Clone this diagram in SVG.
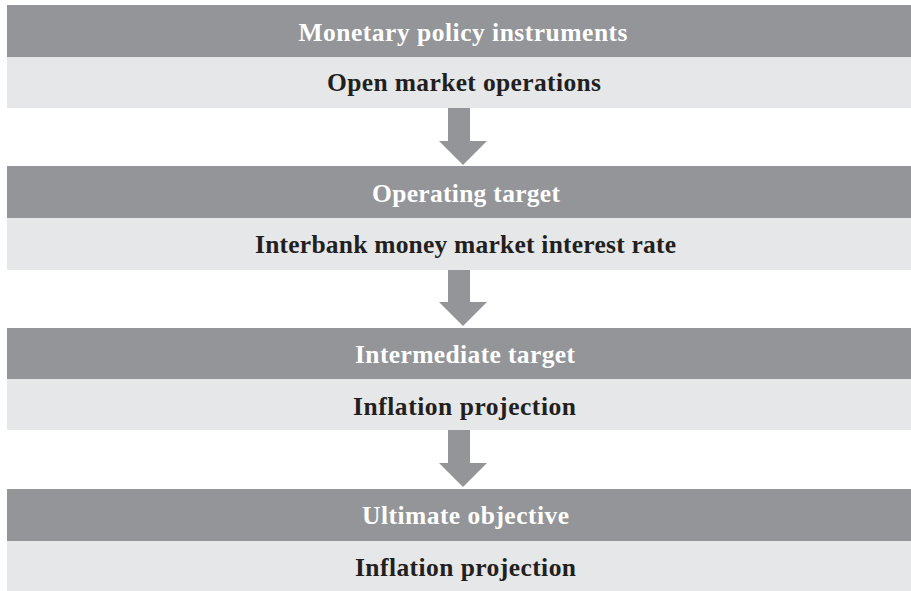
<svg xmlns="http://www.w3.org/2000/svg" width="911" height="591" viewBox="0 0 911 591">
<style>
.hd{fill:#939598}
.bd{fill:#E6E7E8}
.t{font-family:"Liberation Serif","Times New Roman",serif;font-weight:bold;font-size:25.5px;text-anchor:middle}
.tw{fill:#FFFFFF}
.tb{fill:#231F20}
.ar{fill:#939598}
</style>
<rect width="911" height="591" fill="#FFFFFF"/>
<g id="node1">
<rect class="hd" x="7" y="5" width="904" height="52"/>
<rect class="bd" x="7" y="57" width="904" height="51"/>
<text class="t tw" x="463" y="41" textLength="329" lengthAdjust="spacing">Monetary policy instruments</text>
<text class="t tb" x="464" y="91" textLength="274" lengthAdjust="spacing">Open market operations</text>
</g>
<g id="node2">
<rect class="hd" x="7" y="166" width="904" height="52"/>
<rect class="bd" x="7" y="218" width="904" height="52"/>
<text class="t tw" x="466" y="202" textLength="188" lengthAdjust="spacing">Operating target</text>
<text class="t tb" x="465.5" y="253" textLength="421" lengthAdjust="spacing">Interbank money market interest rate</text>
</g>
<g id="node3">
<rect class="hd" x="7" y="328" width="904" height="51"/>
<rect class="bd" x="7" y="379" width="904" height="51"/>
<text class="t tw" x="465" y="363" textLength="220" lengthAdjust="spacing">Intermediate target</text>
<text class="t tb" x="464.5" y="415" textLength="223" lengthAdjust="spacing">Inflation projection</text>
</g>
<g id="node4">
<rect class="hd" x="7" y="489" width="904" height="52"/>
<rect class="bd" x="7" y="541" width="904" height="50"/>
<text class="t tw" x="465.5" y="524" textLength="207" lengthAdjust="spacing">Ultimate objective</text>
<text class="t tb" x="465.5" y="576" textLength="221" lengthAdjust="spacing">Inflation projection</text>
</g>
<g id="connectors">
<polygon class="ar" points="448,108 470,108 470,141 487,141 463,165 439,141 448,141"/>
<polygon class="ar" points="448,270 470,270 470,302 487,302 463,326 439,302 448,302"/>
<polygon class="ar" points="448,430 470,430 470,463 487,463 463,487 439,463 448,463"/>
</g>
</svg>
